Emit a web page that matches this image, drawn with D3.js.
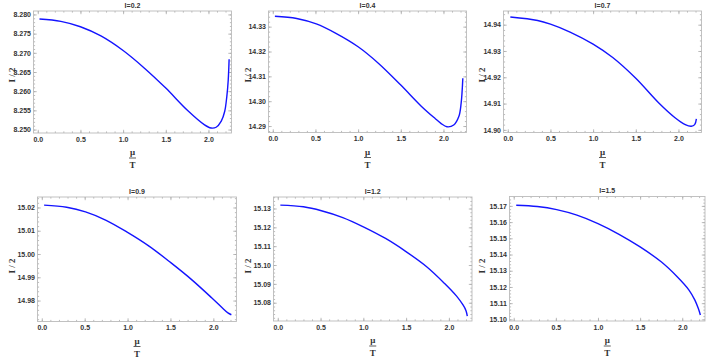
<!DOCTYPE html>
<html>
<head>
<meta charset="utf-8">
<style>
  body { margin: 0; background: #fff; }
  .tick text { font: bold 7px "Liberation Sans", Arial, sans-serif; fill: #333; }
  .tick line { stroke: #aaa; stroke-width: 0.8px; }
  .domain { display: none; }
  .frame { fill: none; stroke: #bbb; stroke-width: 0.9px; }
  .title { font: bold 7px "Liberation Sans", Arial, sans-serif; fill: #333; text-anchor: middle; }
  .lab { font: bold 9px "Liberation Serif", "DejaVu Serif", serif; fill: #333; text-anchor: middle; }
  .curve { fill: none; stroke: #1414ff; stroke-width: 1.4px; }
</style>
</head>
<body>
<svg id="chart" width="708" height="359"></svg>
<script src="https://d3js.org/d3.v7.min.js"></script>
<script>
// panel titles
var titles = ["l=0.2", "l=0.4", "l=0.7", "l=0.9", "l=1.2", "l=1.5"];

// mu/T samples and I/2 values
var mu1 = [0.02, 0.27, 0.5, 0.74, 1.0, 1.25, 1.5, 1.75, 1.95, 2.03, 2.09, 2.15, 2.19, 2.215, 2.232, 2.242];
var half1 = [8.2788, 8.2782, 8.2768, 8.2744, 8.2706, 8.2660, 8.2608, 8.2551, 8.2513, 8.2504, 8.2506, 8.2522, 8.2547, 8.2586, 8.2630, 8.2683];

var mu2 = [0.025, 0.28, 0.51, 0.74, 1.0, 1.24, 1.5, 1.74, 1.9, 1.97, 2.04, 2.12, 2.18, 2.207, 2.227];
var half2 = [14.3342, 14.3333, 14.3311, 14.3273, 14.3219, 14.3152, 14.3065, 14.2980, 14.2931, 14.2911, 14.2897, 14.2904, 14.2938, 14.2991, 14.3092];

var mu3 = [0.03, 0.35, 0.5, 0.73, 1.0, 1.23, 1.5, 1.77, 1.96, 2.08, 2.15, 2.19, 2.21];
var half3 = [14.9429, 14.9416, 14.9402, 14.9372, 14.9326, 14.9275, 14.9196, 14.9102, 14.9046, 14.9020, 14.9014, 14.9020, 14.9042];

var mu4 = [0.027, 0.29, 0.51, 0.75, 1.0, 1.25, 1.5, 1.75, 1.98, 2.1, 2.17, 2.21];
var half4 = [15.0210, 15.0201, 15.0181, 15.0145, 15.0093, 15.0034, 14.9964, 14.9889, 14.9812, 14.9770, 14.9747, 14.9739];

var mu5 = [0.03, 0.3, 0.51, 0.76, 1.0, 1.26, 1.49, 1.74, 1.95, 2.09, 2.165, 2.2, 2.215];
var half5 = [15.1318, 15.1309, 15.1288, 15.1252, 15.1203, 15.1141, 15.1074, 15.0991, 15.0902, 15.0835, 15.0788, 15.0758, 15.0729];

var mu6 = [0.03, 0.28, 0.51, 0.75, 1.0, 1.25, 1.5, 1.75, 1.94, 2.08, 2.15, 2.19, 2.215];
var half6 = [15.1704, 15.1696, 15.1677, 15.1643, 15.1591, 15.1525, 15.1447, 15.1355, 15.1263, 15.1181, 15.1119, 15.1068, 15.1027];

// tick labels
var xTicks = [0, 0.5, 1.0, 1.5, 2.0];
var yTicks1 = [8.250, 8.255, 8.260, 8.265, 8.270, 8.275, 8.280];
var yTicks2 = [14.29, 14.30, 14.31, 14.32, 14.33];
var yTicks3 = [14.90, 14.91, 14.92, 14.93, 14.94];
var yTicks4 = [14.98, 14.99, 15.00, 15.01, 15.02];
var yTicks5 = [15.08, 15.09, 15.10, 15.11, 15.12, 15.13];
var yTicks6 = [15.10, 15.11, 15.12, 15.13, 15.14, 15.15, 15.16, 15.17];

// plot ranges (with Mathematica-like padding)
var xDomain = [-0.05, 2.27];
var yDomains = [[8.2491, 8.2809], [14.2874, 14.3363], [14.8990, 14.9452],
                [14.9710, 15.0245], [15.0703, 15.1361], [15.0990, 15.1758]];
var yMinorSteps = [0.001, 0.002, 0.002, 0.002, 0.002, 0.002];

// layout: frame boxes [x0, y0, x1, y1] and left edge of each grid cell
var frames = [[33.5, 11, 231.5, 133], [268.5, 11, 466.5, 132.5], [503.5, 11, 701.5, 132.5],
              [37.5, 197, 236.5, 321.5], [273.5, 197, 472, 321], [509.5, 196.5, 705, 321]];
var cellLeft = [0, 236, 470, 0, 236, 470];

var mus = [mu1, mu2, mu3, mu4, mu5, mu6];
var halves = [half1, half2, half3, half4, half5, half6];
var yTicks = [yTicks1, yTicks2, yTicks3, yTicks4, yTicks5, yTicks6];

var svg = d3.select("#chart");

function minorTicks(domain, step) {
    var out = [];
    var k0 = Math.ceil(domain[0] / step - 1e-6), k1 = Math.floor(domain[1] / step + 1e-6);
    for (var k = k0; k <= k1; k++) out.push(+(k * step).toFixed(6));
    return out;
}

titles.forEach(function (title, i) {
    var f = frames[i];
    var g = svg.append("g");
    var x = d3.scaleLinear().domain(xDomain).range([f[0], f[2]]);
    var y = d3.scaleLinear().domain(yDomains[i]).range([f[3], f[1]]);
    var yFmt = i === 0 ? d3.format(".3f") : d3.format(".2f");
    var xMinor = minorTicks(xDomain, 0.1);
    var yMinor = minorTicks(yDomains[i], yMinorSteps[i]);

    // minor ticks on all four sides
    g.append("g").attr("transform", "translate(0," + f[3] + ")")
        .call(d3.axisBottom(x).tickValues(xMinor).tickSize(-1.6).tickFormat(""));
    g.append("g").attr("transform", "translate(0," + f[1] + ")")
        .call(d3.axisTop(x).tickValues(xMinor).tickSize(-1.6).tickFormat(""));
    g.append("g").attr("transform", "translate(" + f[0] + ",0)")
        .call(d3.axisLeft(y).tickValues(yMinor).tickSize(-1.6).tickFormat(""));
    g.append("g").attr("transform", "translate(" + f[2] + ",0)")
        .call(d3.axisRight(y).tickValues(yMinor).tickSize(-1.6).tickFormat(""));

    // major ticks
    g.append("g").attr("transform", "translate(0," + f[3] + ")")
        .call(d3.axisBottom(x).tickValues(xTicks).tickSize(-3.2).tickPadding(4).tickFormat(d3.format(".1f")));
    g.append("g").attr("transform", "translate(0," + f[1] + ")")
        .call(d3.axisTop(x).tickValues(xTicks).tickSize(-3.2).tickFormat(""));
    g.append("g").attr("transform", "translate(" + f[0] + ",0)")
        .call(d3.axisLeft(y).tickValues(yTicks[i]).tickSize(-3.2).tickPadding(2.5).tickFormat(yFmt));
    g.append("g").attr("transform", "translate(" + f[2] + ",0)")
        .call(d3.axisRight(y).tickValues(yTicks[i]).tickSize(-3.2).tickFormat(""));

    g.append("rect").attr("class", "frame")
        .attr("x", f[0]).attr("y", f[1])
        .attr("width", f[2] - f[0]).attr("height", f[3] - f[1]);

    var pts = mus[i].map(function (m, j) { return [m, halves[i][j]]; });
    var line = d3.line()
        .x(function (d) { return x(d[0]); })
        .y(function (d) { return y(d[1]); })
        .curve(d3.curveCatmullRom.alpha(0.5));
    g.append("path").attr("class", "curve").attr("d", line(pts));

    var cx = (f[0] + f[2]) / 2;
    g.append("text").attr("class", "title")
        .attr("x", cx).attr("y", f[1] - 3.5).text(title);

    // y label
    var ly = i < 3 ? 75 : 266;
    g.append("text").attr("class", "lab")
        .attr("transform", "translate(" + (cellLeft[i] + 15) + "," + ly + ") rotate(-90)")
        .text("I / 2");

    // x label: mu over T
    g.append("text").attr("class", "lab").attr("x", cx).attr("y", f[3] + 22).text("\u03bc");
    g.append("line").attr("x1", cx - 3.5).attr("x2", cx + 3.5)
        .attr("y1", f[3] + 25).attr("y2", f[3] + 25)
        .attr("stroke", "#333").attr("stroke-width", 0.8);
    g.append("text").attr("class", "lab").attr("x", cx).attr("y", f[3] + 35).text("T");
});
</script>
</body>
</html>
